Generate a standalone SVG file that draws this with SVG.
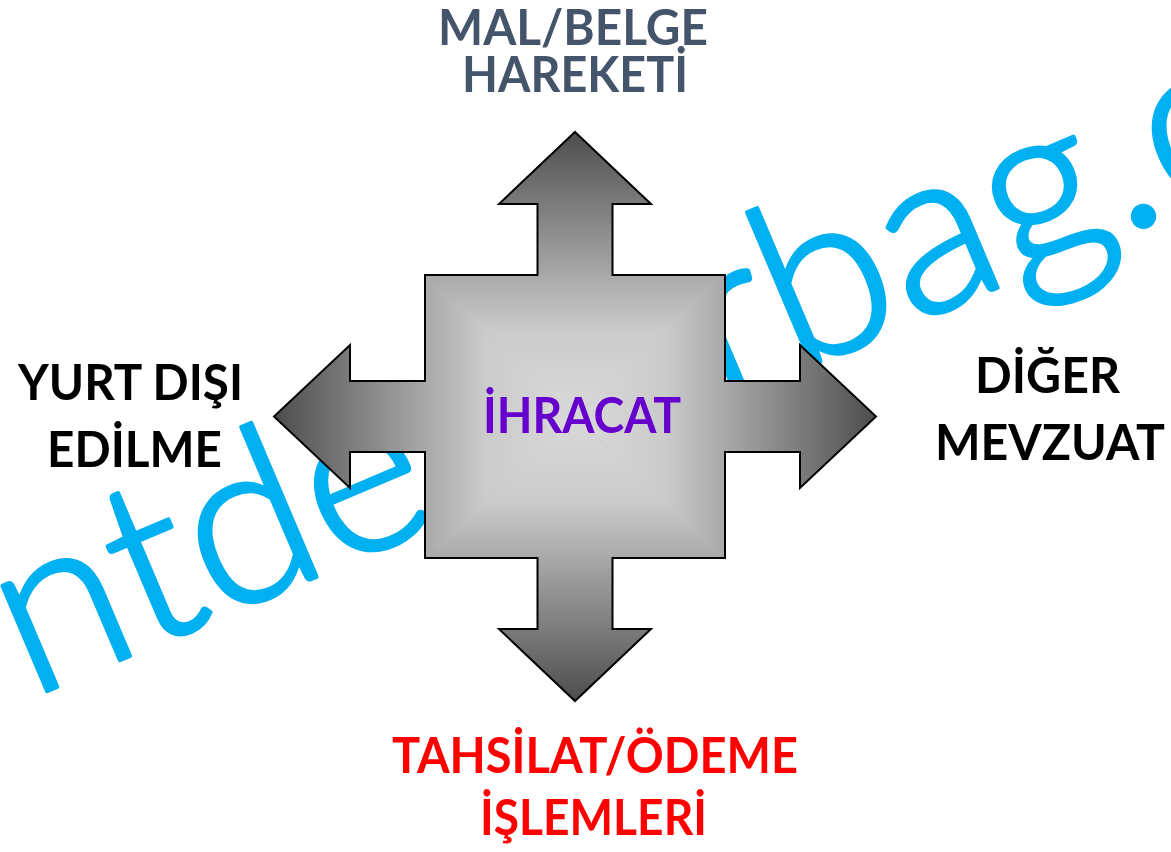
<svg xmlns="http://www.w3.org/2000/svg" width="1171" height="852" viewBox="0 0 1171 852">
  <style>
    .lbl { font-family: Lato, "Liberation Sans", sans-serif; font-weight: 700; font-size: 50px; text-anchor: middle; }
    .wm { font-family: Lato, "Liberation Sans", sans-serif; font-weight: 300; font-size: 230px; fill: #00b0f0; stroke: #00b0f0; stroke-width: 4; stroke-linejoin: round; }
    .sector { stroke: none; }
    .outline { fill: none; stroke: #000; stroke-width: 2; stroke-linejoin: miter; }
  </style>
  <defs>
    <linearGradient id="gTop" gradientUnits="userSpaceOnUse" x1="575" y1="416.5" x2="575" y2="132">
      <stop offset="0" stop-color="#d9d9d9"/><stop offset="0.3" stop-color="#cbcbcb"/><stop offset="0.5" stop-color="#a8a8a8"/><stop offset="0.75" stop-color="#7b7b7b"/><stop offset="1" stop-color="#4d4d4d"/>
    </linearGradient>
    <linearGradient id="gBottom" gradientUnits="userSpaceOnUse" x1="575" y1="416.5" x2="575" y2="701">
      <stop offset="0" stop-color="#d9d9d9"/><stop offset="0.3" stop-color="#cbcbcb"/><stop offset="0.5" stop-color="#a8a8a8"/><stop offset="0.75" stop-color="#7b7b7b"/><stop offset="1" stop-color="#4d4d4d"/>
    </linearGradient>
    <linearGradient id="gLeft" gradientUnits="userSpaceOnUse" x1="575" y1="416.5" x2="274" y2="416.5">
      <stop offset="0" stop-color="#d9d9d9"/><stop offset="0.3" stop-color="#cbcbcb"/><stop offset="0.5" stop-color="#a8a8a8"/><stop offset="0.75" stop-color="#7b7b7b"/><stop offset="1" stop-color="#4d4d4d"/>
    </linearGradient>
    <linearGradient id="gRight" gradientUnits="userSpaceOnUse" x1="575" y1="416.5" x2="876" y2="416.5">
      <stop offset="0" stop-color="#d9d9d9"/><stop offset="0.3" stop-color="#cbcbcb"/><stop offset="0.5" stop-color="#a8a8a8"/><stop offset="0.75" stop-color="#7b7b7b"/><stop offset="1" stop-color="#4d4d4d"/>
    </linearGradient>
  </defs>

  <g id="watermark" transform="translate(50,690) rotate(-23)">
    <text class="wm" x="-22" y="0">ntde</text>
    <text class="wm" x="728" y="0">rbag.c</text>
  </g>

  <g id="connectors">
    <g id="quad-arrow">
      <polygon fill="#b5b5b5" points="575,132 651,204 612.5,204 612.5,275 725,275 725,381 800,381 800,345 876,416.5 800,488 800,452 725,452 725,558 612.5,558 612.5,629 651,629 575,701 499,629 537.5,629 537.5,558 425,558 425,452 350,452 350,488 274,416.5 350,345 350,381 425,381 425,275 537.5,275 537.5,204 499,204"/>
      <polygon class="sector" fill="url(#gTop)" points="575,416.5 425,275 537.5,275 537.5,204 499,204 575,132 651,204 612.5,204 612.5,275 725,275"/>
      <polygon class="sector" fill="url(#gRight)" points="575,416.5 725,275 725,381 800,381 800,345 876,416.5 800,488 800,452 725,452 725,558"/>
      <polygon class="sector" fill="url(#gBottom)" points="575,416.5 725,558 612.5,558 612.5,629 651,629 575,701 499,629 537.5,629 537.5,558 425,558"/>
      <polygon class="sector" fill="url(#gLeft)" points="575,416.5 425,558 425,452 350,452 350,488 274,416.5 350,345 350,381 425,381 425,275"/>
      <polygon class="outline" points="575,132 651,204 612.5,204 612.5,275 725,275 725,381 800,381 800,345 876,416.5 800,488 800,452 725,452 725,558 612.5,558 612.5,629 651,629 575,701 499,629 537.5,629 537.5,558 425,558 425,452 350,452 350,488 274,416.5 350,345 350,381 425,381 425,275 537.5,275 537.5,204 499,204"/>
    </g>
  </g>

  <g id="node-ihracat">
    <text class="lbl" x="582" y="433" fill="#6600cc" textLength="198" lengthAdjust="spacingAndGlyphs">İHRACAT</text>
  </g>
  <g id="node-mal-belge">
    <text class="lbl" x="573" y="45" fill="#44546a" textLength="270" lengthAdjust="spacingAndGlyphs">MAL/BELGE</text>
    <text class="lbl" x="575" y="92" fill="#44546a" textLength="226" lengthAdjust="spacingAndGlyphs">HAREKETİ</text>
  </g>
  <g id="node-yurt-disi">
    <text class="lbl" x="130.5" y="400" fill="#000" textLength="225" lengthAdjust="spacingAndGlyphs">YURT DIŞI</text>
    <text class="lbl" x="134.5" y="467" fill="#000" textLength="175" lengthAdjust="spacingAndGlyphs">EDİLME</text>
  </g>
  <g id="node-diger">
    <text class="lbl" x="1047.5" y="393" fill="#000" textLength="145" lengthAdjust="spacingAndGlyphs">DİĞER</text>
    <text class="lbl" x="1050" y="460" fill="#000" textLength="230" lengthAdjust="spacingAndGlyphs">MEVZUAT</text>
  </g>
  <g id="node-tahsilat">
    <text class="lbl" x="595" y="773" fill="#ff0000" textLength="406" lengthAdjust="spacingAndGlyphs">TAHSİLAT/ÖDEME</text>
    <text class="lbl" x="593.5" y="835" fill="#ff0000" textLength="227" lengthAdjust="spacingAndGlyphs">İŞLEMLERİ</text>
  </g>
</svg>
